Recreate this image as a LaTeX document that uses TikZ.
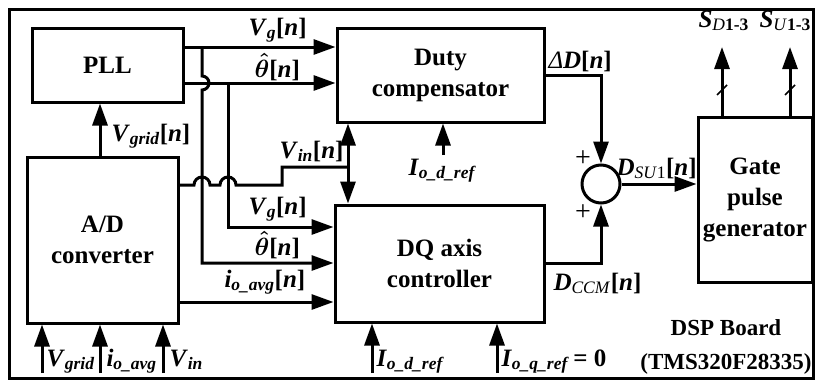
\documentclass[tikz,border=0pt]{standalone}
\usepackage{fontspec}
\setmainfont{Liberation Serif}
\usetikzlibrary{arrows.meta}
\usetikzlibrary{calc}

\newcommand{\sig}[2]{\textit{#1}\textsubscript{\textit{#2}}}
\newcommand{\nn}{[\textit{n}]}
\newcommand{\thh}{{\boldmath$\hat{\theta}$}}

\begin{document}
\begin{tikzpicture}[x=1pt,y=-1pt,line width=3pt,>={Triangle[length=22pt,width=15pt]},
  font=\fontsize{25}{31}\selectfont\bfseries,
  blk/.style={draw,align=center,inner sep=0pt},
  lbl/.style={inner sep=0pt,anchor=base west}]
  \useasboundingbox (0,0) rectangle (818,383);
  \draw (9,9) rectangle (813,378);

  % blocks
  \node[blk,minimum width=151pt,minimum height=74pt] (pll) at (107.5,65) {PLL};
  \node[blk,minimum width=207pt,minimum height=94pt] (duty) at (440.5,75) {Duty\\compensator};
  \node[blk,minimum width=151pt,minimum height=166pt] (ad) at (102.5,240) {A/D\\converter};
  \node[blk,minimum width=209pt,minimum height=117pt] (dq) at (439.5,263.5) {DQ axis\\controller};
  \node[blk,minimum width=114pt,minimum height=165pt] (gate) at (755,199.5) {Gate\\pulse\\generator};
  \node[blk,circle,minimum size=38pt] (sum) at (601,184) {};
  \node[align=center,font=\fontsize{23}{34}\selectfont\bfseries] (dsp) at (726,347) {DSP Board\\(TMS320F28335)};

  % PLL outputs
  \coordinate (tapA) at (202,47);
  \coordinate (tapB) at (228,83);
  \draw[->] (pll.east |- tapA) -- (duty.west |- tapA);
  \draw[->] (pll.east |- tapB) -- (duty.west |- tapB);

  % branches down to DQ
  \coordinate (rowVg) at (228,227);
  \coordinate (rowTh) at (202,263);
  \coordinate (rowIo) at (178,302);
  \draw[->] (tapA) -- (202,76) arc (90:-90:7pt) -- (rowTh) -- (dq.west |- rowTh);
  \draw[->] (tapB) -- (rowVg) -- (dq.west |- rowVg);
  \draw[->] (ad.east |- rowIo) -- (dq.west |- rowIo);

  % Vin to the link between the two controllers
  \coordinate (vinA) at (178,185);
  \coordinate (link) at (348,167);
  \draw (vinA) -- (194,185) arc (180:0:8pt) -- (220,185) arc (180:0:8pt)
    -- (282,185) -- (282,167) -- (link);
  \draw[<->] (duty.south -| link) -- (dq.north -| link);

  % A/D to PLL
  \coordinate (vgr) at (100,130);
  \draw[->] (ad.north -| vgr) -- (pll.south -| vgr);

  % summing point
  \draw[->] (duty.east) -| (sum.north);
  \draw[->] (dq.east) -| (sum.south);
  \draw[->] (sum.east) -- (gate.west |- sum.east);

  % gate outputs
  \foreach \n/\x in {sD/722,sU/790}
  {
    \coordinate (\n) at (\x,47);
    \draw[->] (gate.north -| \n) -- (\n);
    \draw[line width=1.5pt] (\x-5,95) -- (\x+5,85);
  }

  % inputs from below
  \foreach \n/\x in {inA/42,inB/100,inC/163}
    \coordinate (\n) at (\x,373);
  \foreach \n/\x in {inD/372,inE/497}
    \coordinate (\n) at (\x,373);
  \coordinate (inF) at (443,155);
  \foreach \n in {inA,inB,inC}
    \draw[->] (\n) -- (\n |- ad.south);
  \foreach \n in {inD,inE}
    \draw[->] (\n) -- (\n |- dq.south);
  \draw[->] (inF) -- (inF |- duty.south);

  % labels
  \node[lbl] (lVg1) at (247,35) {\sig{V}{g}\nn};
  \node[lbl] (lTh1) at (253,77) {\thh\nn};
  \node[lbl] (lVgr) at (110,141) {\sig{V}{grid}\nn};
  \node[lbl] (lVin) at (278,158) {\sig{V}{in}\nn};
  \node[lbl] (lVg2) at (247,214) {\sig{V}{g}\nn};
  \node[lbl] (lTh2) at (253,255) {\thh\nn};
  \node[lbl] (lIo) at (223,287) {\sig{i}{o\_avg}\nn};
  \node[lbl] (lDD) at (547,68) {\textit{\mdseries Δ}\textit{D}\nn};
  \node[lbl] (lDsu) at (615,175) {\textit{D}\textsubscript{\mdseries\textit{SU}1}\nn};
  \node[lbl] (lDccm) at (552,290) {\textit{D}\textsubscript{\mdseries\textit{CCM}}\nn};
  \node[lbl] (lSD) at (697,27) {\textit{S}\textsubscript{\textit{\mdseries D}1-3}};
  \node[lbl] (lSU) at (758,27) {\textit{S}\textsubscript{\textit{\mdseries U}1-3}};
  \node[lbl] (lIod1) at (407,175) {\sig{I}{o\_d\_ref}};
  \node[lbl] (lVgrB) at (45,366) {\sig{V}{grid}};
  \node[lbl] (lIoB) at (105,366) {\sig{i}{o\_avg}};
  \node[lbl] (lVinB) at (168,366) {\sig{V}{in}};
  \node[lbl] (lIod2) at (375,366) {\sig{I}{o\_d\_ref}};
  \node[lbl] (lIoq) at (500,366) {\sig{I}{o\_q\_ref}\,= 0};
  \node[font=\fontsize{28}{30}\selectfont] (plA) at (583,159) {+};
  \node[font=\fontsize{28}{30}\selectfont] (plB) at (583,213) {+};
\end{tikzpicture}
\end{document}
